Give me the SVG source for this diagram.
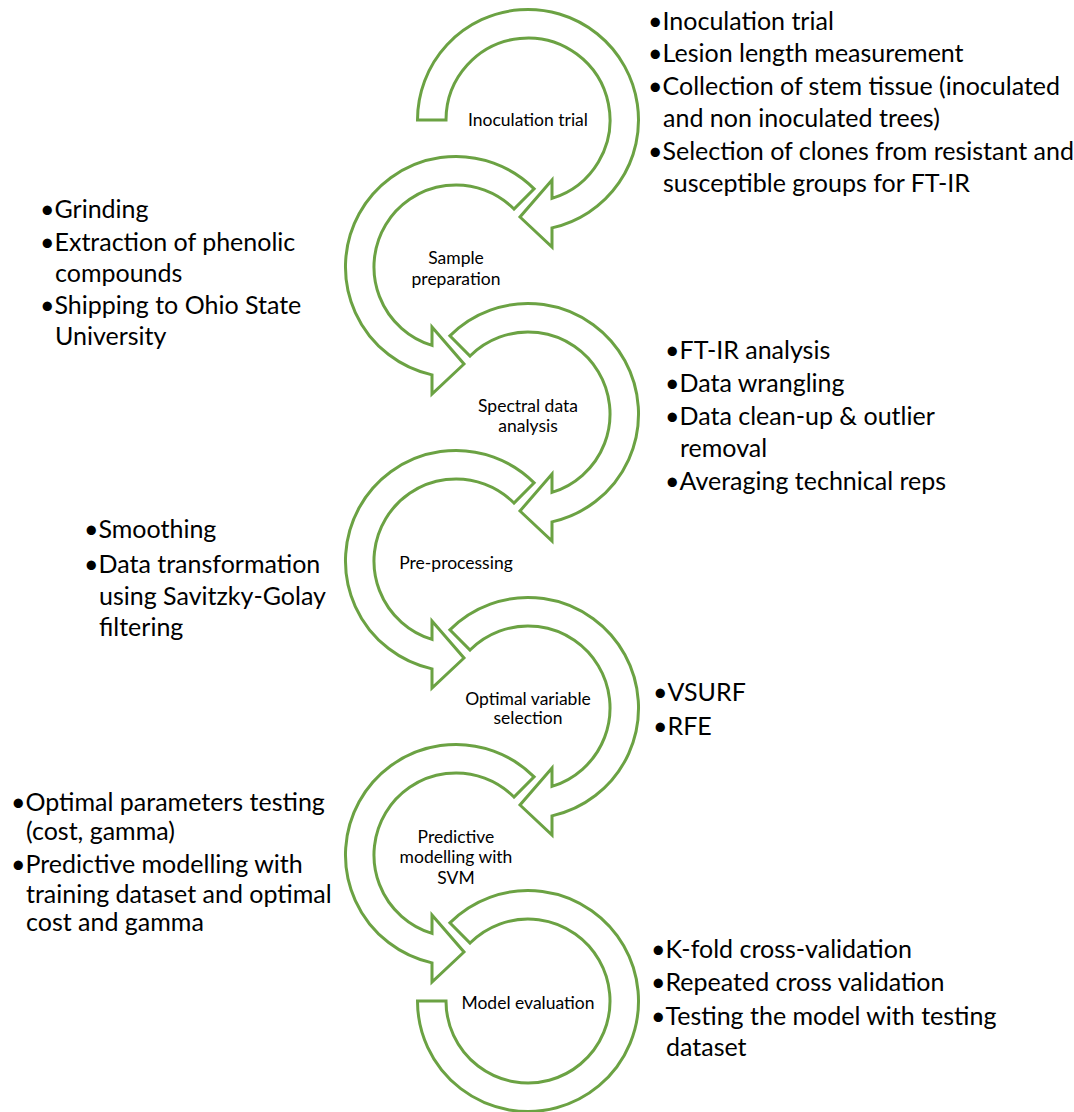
<svg xmlns="http://www.w3.org/2000/svg" xmlns:xlink="http://www.w3.org/1999/xlink" width="1074" height="1112" viewBox="0 0 1074 1112">
<style>
.arr{fill:#ffffff;stroke:#6ba243;stroke-width:3;stroke-linejoin:miter}
.b{font-family:Lato,"Liberation Sans",sans-serif;font-size:25px;fill:#000}
.c{font-family:Lato,"Liberation Sans",sans-serif;font-size:17.5px;fill:#000;text-anchor:middle}
</style>
<defs>
<path id="first" d="M -82,0 A 82 82 0 1 1 24,78.4 L 24,60 L -8,97 L 24,127 L 24,107.86 A 110.5 110.5 0 1 0 -110.5,0 Z"/>
<path id="mid" d="M -57.98,-57.98 A 82 82 0 1 1 24,78.4 L 24,60 L -8,97 L 24,127 L 24,107.86 A 110.5 110.5 0 1 0 -78.13,-78.13 Z"/>
<path id="last" d="M -57.98,-57.98 A 82 82 0 1 1 -82,0 L -110.5,0 A 110.5 110.5 0 1 0 -78.13,-78.13 Z"/>
</defs>
<g id="connectors"></g>
<g id="node1">
<use xlink:href="#first" class="arr" transform="translate(528,120)"/>
<text class="c" x="528" y="126">Inoculation trial</text>
</g>
<g id="node2">
<use xlink:href="#mid" class="arr" transform="translate(456,267) scale(-1,1)"/>
<text class="c" x="456" y="264">Sample</text>
<text class="c" x="456" y="285">preparation</text>
</g>
<g id="node3">
<use xlink:href="#mid" class="arr" transform="translate(528,414)"/>
<text class="c" x="528" y="412">Spectral data</text>
<text class="c" x="528" y="432">analysis</text>
</g>
<g id="node4">
<use xlink:href="#mid" class="arr" transform="translate(456,561) scale(-1,1)"/>
<text class="c" x="456" y="569">Pre-processing</text>
</g>
<g id="node5">
<use xlink:href="#mid" class="arr" transform="translate(528,708)"/>
<text class="c" x="528" y="705">Optimal variable</text>
<text class="c" x="528" y="724">selection</text>
</g>
<g id="node6">
<use xlink:href="#mid" class="arr" transform="translate(456,855) scale(-1,1)"/>
<text class="c" x="456" y="843">Predictive</text>
<text class="c" x="456" y="863">modelling with</text>
<text class="c" x="456" y="884">SVM</text>
</g>
<g id="node7">
<use xlink:href="#last" class="arr" transform="translate(528,1001)"/>
<text class="c" x="528" y="1009">Model evaluation</text>
</g>
<g id="notes1">
<text class="b" x="648" y="30">•Inoculation trial</text>
<text class="b" x="648" y="62">•Lesion length measurement</text>
<text class="b" x="648" y="95">•Collection of stem tissue (inoculated</text>
<text class="b" x="663" y="127">and non inoculated trees)</text>
<text class="b" x="648" y="160">•Selection of clones from resistant and</text>
<text class="b" x="663" y="192">susceptible groups for FT-IR</text>
</g>
<g id="notes2">
<text class="b" x="40" y="218">•Grinding</text>
<text class="b" x="40" y="251">•Extraction of phenolic</text>
<text class="b" x="55" y="282">compounds</text>
<text class="b" x="40" y="314">•Shipping to Ohio State</text>
<text class="b" x="55" y="345">University</text>
</g>
<g id="notes3">
<text class="b" x="665" y="359">•FT-IR analysis</text>
<text class="b" x="665" y="392">•Data wrangling</text>
<text class="b" x="665" y="425">•Data clean-up &amp; outlier</text>
<text class="b" x="680" y="457">removal</text>
<text class="b" x="665" y="490">•Averaging technical reps</text>
</g>
<g id="notes4">
<text class="b" x="84" y="538">•Smoothing</text>
<text class="b" x="84" y="573">•Data transformation</text>
<text class="b" x="99" y="605">using Savitzky-Golay</text>
<text class="b" x="99" y="636">filtering</text>
</g>
<g id="notes5">
<text class="b" x="653" y="701">•VSURF</text>
<text class="b" x="653" y="735">•RFE</text>
</g>
<g id="notes6">
<text class="b" x="11" y="811">•Optimal parameters testing</text>
<text class="b" x="26" y="840">(cost, gamma)</text>
<text class="b" x="11" y="873">•Predictive modelling with</text>
<text class="b" x="26" y="903">training dataset and optimal</text>
<text class="b" x="26" y="931">cost and gamma</text>
</g>
<g id="notes7">
<text class="b" x="651" y="958">•K-fold cross-validation</text>
<text class="b" x="651" y="991">•Repeated cross validation</text>
<text class="b" x="651" y="1025">•Testing the model with testing</text>
<text class="b" x="666" y="1056">dataset</text>
</g>
</svg>
